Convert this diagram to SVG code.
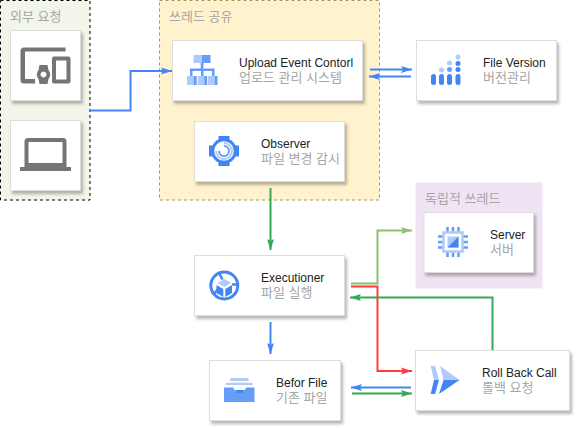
<svg xmlns="http://www.w3.org/2000/svg" width="576" height="428" viewBox="0 0 576 428">
<style>
.card{fill:#fff;stroke:#dddddd;stroke-width:1;filter:url(#sh)}
.t{font-family:"Liberation Sans","Noto Sans CJK KR",sans-serif;font-size:12px;fill:#222}
.k{font-family:"Liberation Sans","Noto Sans CJK KR",sans-serif;font-size:13px;fill:#a6a6a6}
.c{fill:none;stroke-width:2}
.b{stroke:#4285f4}.g{stroke:#34a853}.lg{stroke:#8fbf73}.r{stroke:#ff3b3b}
.i1{fill:#4285f4}.i2{fill:#aecbfa}.i3{fill:#669df6}.gy{fill:#757575}
</style>
<defs>
<filter id="sh" x="-10%" y="-10%" width="125%" height="130%"><feDropShadow dx="2" dy="3" stdDeviation="1.5" flood-color="#000" flood-opacity="0.28"/></filter>
<marker id="mb" markerWidth="12" markerHeight="8" refX="11" refY="4" orient="auto" markerUnits="userSpaceOnUse"><path d="M0 0.5L11 4L0 7.5L2 4Z" fill="#4285f4"/></marker>
<marker id="mg" markerWidth="12" markerHeight="8" refX="11" refY="4" orient="auto" markerUnits="userSpaceOnUse"><path d="M0 0.5L11 4L0 7.5L2 4Z" fill="#34a853"/></marker>
<marker id="ml" markerWidth="12" markerHeight="8" refX="11" refY="4" orient="auto" markerUnits="userSpaceOnUse"><path d="M0 0.5L11 4L0 7.5L2 4Z" fill="#8fbf73"/></marker>
<marker id="mr" markerWidth="12" markerHeight="8" refX="11" refY="4" orient="auto" markerUnits="userSpaceOnUse"><path d="M0 0.5L11 4L0 7.5L2 4Z" fill="#ff3b3b"/></marker>
</defs>
<g id="group-external">
<rect x="0.500" y="0.500" width="89.500" height="199.500" fill="#f1f6e9" stroke="#000" stroke-dasharray="3 3"/>
<text x="10" y="21" class="k">외부 요청</text>
</g>
<g id="group-shared">
<rect x="159.500" y="0.500" width="220" height="199.500" fill="#fff2cc" stroke="#a8965a" stroke-dasharray="3 3"/>
<text x="169" y="21" class="k">쓰레드 공유</text>
</g>
<g id="group-independent">
<rect x="415.500" y="182.500" width="127" height="106" fill="#f0e3f4"/>
<text x="425" y="203" class="k">독립적 쓰레드</text>
</g>
<g id="connectors">
<path class="c b" d="M90 110.500H130.500V71H172" marker-end="url(#mb)"/>
<path class="c b" d="M370 69.500H412" marker-end="url(#mb)"/>
<path class="c b" d="M411 76.500H369" marker-end="url(#mb)"/>
<path class="c g" d="M270.500 188V250" marker-end="url(#mg)"/>
<path class="c lg" d="M351 283.500H377.500V230.500H412" marker-end="url(#ml)"/>
<path class="c r" d="M351 286.500H377.500V371H412" marker-end="url(#mr)"/>
<path class="c g" d="M492.500 350V297.500H350" marker-end="url(#mg)"/>
<path class="c b" d="M270.500 322V354" marker-end="url(#mb)"/>
<path class="c b" d="M411 387.500H351" marker-end="url(#mb)"/>
<path class="c g" d="M352 393.500H412" marker-end="url(#mg)"/>
</g>
<g id="node-devices">
<rect class="card" x="10.500" y="30.500" width="70" height="70"/>
<path class="gy" d="M24 47.500H65.500V51.500H25V79H35V83.500H24A3.500 3.500 0 0 1 20.500 80V51A3.500 3.500 0 0 1 24 47.500Z"/>
<path class="gy" fill-rule="evenodd" d="M39.500 65H47.500L48.500 70A7.500 7.500 0 0 1 48.500 79L47.500 84H39.500L38.500 79A7.500 7.500 0 0 1 38.500 70ZM43.500 71.500A3 3 0 1 0 43.510 71.500Z"/>
<path class="gy" fill-rule="evenodd" d="M54 56.500H68.500A2 2 0 0 1 70.500 58.500V81.500A2 2 0 0 1 68.500 83.500H54A2 2 0 0 1 52 81.500V58.500A2 2 0 0 1 54 56.500ZM56 60.500V79.500H66.500V60.500Z"/>
</g>
<g id="node-laptop">
<rect class="card" x="10.500" y="120.500" width="70" height="70"/>
<path class="gy" fill-rule="evenodd" d="M28 138H63a3.500 3.500 0 0 1 3.500 3.500V167H24.500V141.500a3.500 3.500 0 0 1 3.500-3.500ZM28.500 142V163H62.500V142Z"/>
<rect class="gy" x="20" y="167" width="51" height="4"/>
</g>
<g id="node-upload">
<rect class="card" x="172.500" y="40.500" width="190" height="60"/>
<rect class="i2" x="193.500" y="55" width="8.500" height="8"/><rect class="i3" x="202" y="55" width="8.500" height="8"/>
<path class="i3" d="M200.700 63H203.500V68.500H214.500V76H212V71H203.500V76H201V71H192.500V76H190V68.500H200.700Z"/>
<path class="i2" d="M187 76H193.500V85H187ZM197.700 76H204.200V85H197.700ZM208 76H214.500V85H208Z"/>
<path class="i3" d="M193.500 76H196.700V85H193.500ZM204.200 76H207.200V85H204.200ZM214.500 76H217.500V85H214.500Z"/>
<text x="239" y="67" class="t">Upload Event Contorl</text>
<text x="239" y="82" class="k">업로드 관리 시스템</text>
</g>
<g id="node-observer">
<rect class="card" x="194.500" y="121.500" width="150" height="60"/>
<circle class="i1" cx="224" cy="151" r="12.800"/>
<rect class="i1" x="218.500" y="136" width="11" height="30"/><rect class="i1" x="209" y="145.500" width="30" height="11"/>
<circle cx="224" cy="151" r="9.800" fill="#fff"/>
<path d="M224 143A8 8 0 1 1 216 151" fill="none" stroke="#aecbfa" stroke-width="2"/>
<path d="M224 146A5 5 0 1 1 219 151" fill="none" stroke="#669df6" stroke-width="2"/>
<text x="261" y="148" class="t">Observer</text>
<text x="261" y="163" class="k">파일 변경 감시</text>
</g>
<g id="node-fileversion">
<rect class="card" x="416.500" y="40.500" width="140" height="60"/>
<circle class="i2" cx="458" cy="57" r="2.500"/><circle class="i2" cx="449.500" cy="63" r="2.500"/><circle class="i1" cx="458" cy="63.500" r="2.500"/>
<circle class="i2" cx="441.500" cy="70" r="2.500"/><circle class="i3" cx="449.500" cy="69.500" r="2.500"/><circle class="i1" cx="458" cy="69.500" r="2.500"/>
<rect class="i1" x="431" y="74" width="5" height="11" rx="2.500"/><rect class="i1" x="439" y="74" width="5" height="11" rx="2.500"/><rect class="i1" x="447" y="74" width="5" height="11" rx="2.500"/><rect class="i1" x="455.500" y="74" width="5" height="11" rx="2.500"/>
<text x="483" y="67" class="t">File Version</text>
<text x="483" y="82" class="k">버전관리</text>
</g>
<g id="node-server">
<rect class="card" x="424" y="212.500" width="109.500" height="60"/>
<path d="M447.500 227V232M453 227V232M458.500 227V232M447.500 252V257M453 252V257M458.500 252V257M438 236.500H443M438 242H443M438 247.500H443M463 236.500H468M463 242H468M463 247.500H468" stroke="#669df6" stroke-width="2.500" fill="none"/>
<rect x="443.500" y="232.500" width="19" height="19" fill="#fff" stroke="#aecbfa" stroke-width="2.500"/>
<rect x="447.500" y="236.500" width="11" height="11" fill="#aecbfa"/>
<path class="i1" d="M458.500 236.500V247.500H447.500Z"/>
<text x="490" y="239" class="t">Server</text>
<text x="490" y="254" class="k">서버</text>
</g>
<g id="node-executioner">
<rect class="card" x="194.500" y="255.500" width="150" height="60"/>
<circle cx="224.300" cy="285.500" r="13.500" fill="none" stroke="#4285f4" stroke-width="3"/>
<path class="i2" d="M224.300 279L231 283L224.300 287L217.500 283Z"/>
<path class="i1" d="M216.500 285L223.300 289V297L216.500 293ZM232 285L225.300 289V297L232 293Z"/>
<path d="M219 273L222.500 279.500M237 284.500H232M214 294L218 289" stroke="#4285f4" stroke-width="2.500" fill="none"/>
<text x="261" y="282" class="t">Executioner</text>
<text x="261" y="297" class="k">파일 실행</text>
</g>
<g id="node-beforfile">
<rect class="card" x="209.500" y="360.500" width="131" height="60"/>
<path class="i2" d="M230.700 378H248L249 381H229.700ZM226.300 382.700H252.300L253 385H225.500Z"/>
<path class="i3" d="M224 387.500H233L236 392H243L246.500 387.500H254.500V402H224Z"/>
<path class="i1" d="M235 390H244.500L242.500 393H237Z"/>
<text x="276" y="387" class="t">Befor File</text>
<text x="276" y="402" class="k">기존 파일</text>
</g>
<g id="node-rollback">
<rect class="card" x="415.500" y="350.500" width="154" height="60"/>
<path class="i2" d="M430.700 366H435L439 380H434Z"/>
<path class="i1" d="M434 380H439L435 394H430.700Z"/>
<path class="i2" d="M440 366L459.500 380H443.500Z"/>
<path class="i1" d="M443.500 380H459.500L439 394Z"/>
<text x="482" y="377" class="t">Roll Back Call</text>
<text x="482" y="392" class="k">롤백 요청</text>
</g>
</svg>
